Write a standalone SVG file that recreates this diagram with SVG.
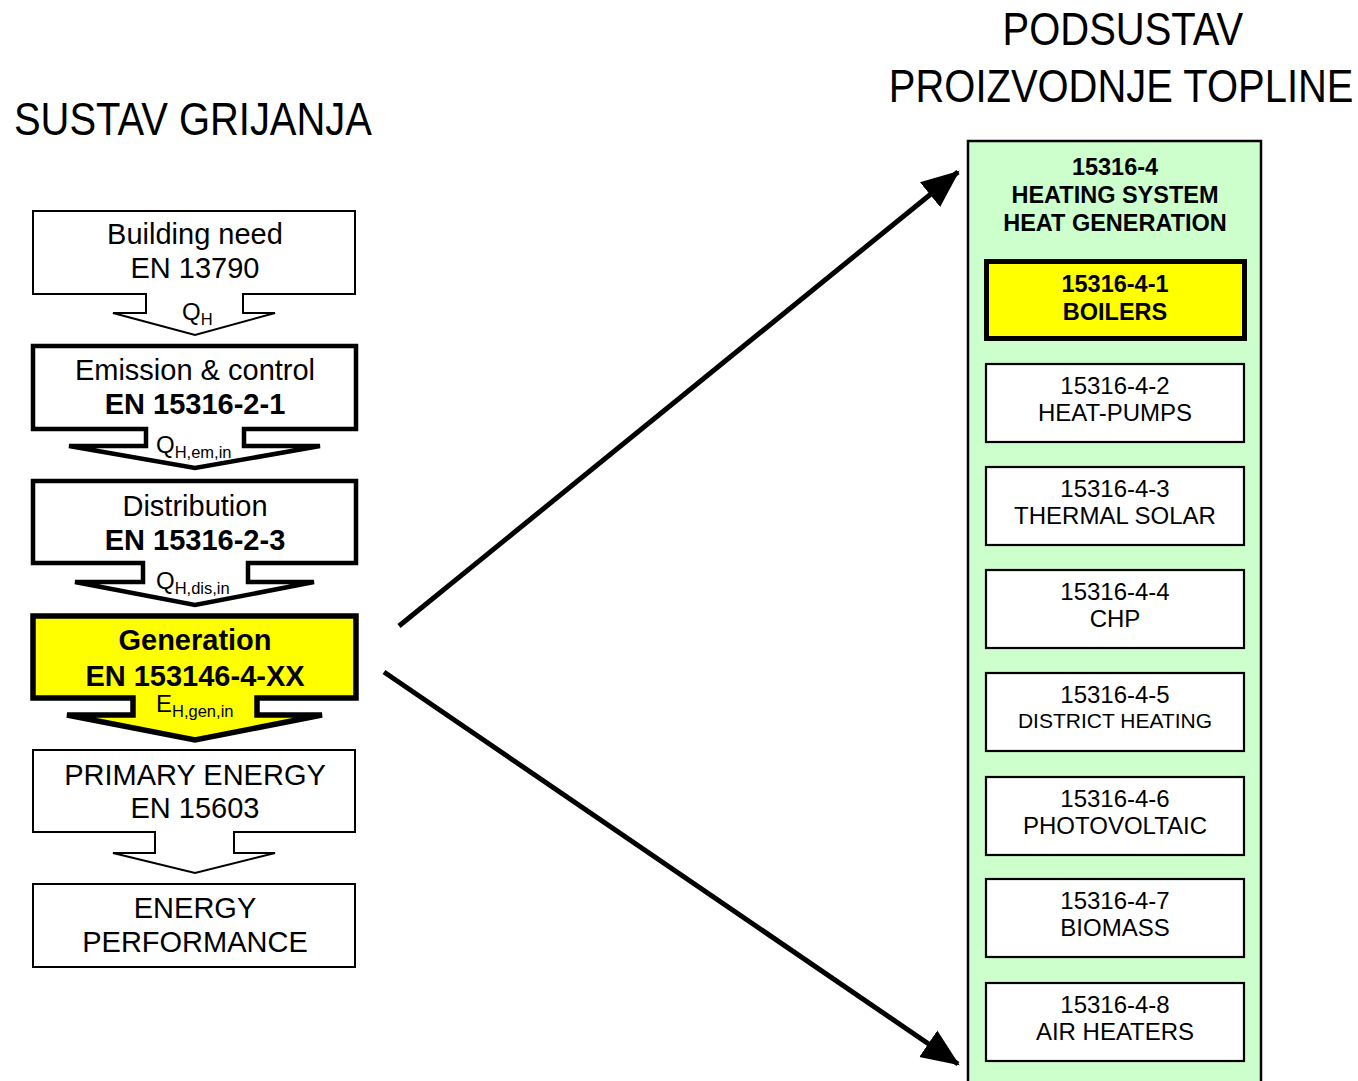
<svg xmlns="http://www.w3.org/2000/svg" width="1358" height="1081" viewBox="0 0 1358 1081">
<style>
text{font-family:"Liberation Sans",Arial,sans-serif;fill:#000;text-anchor:middle}
.title{font-size:47px}
.lt{font-size:29px}
.lb{font-size:29px;font-weight:bold}
.q{font-size:24px;text-anchor:start}
.qs{font-size:16.5px}
.rb{font-size:23.5px;font-weight:bold}
.rt{font-size:24px}
.thin{fill:#fff;stroke:#000;stroke-width:2}
.thick{fill:#fff;stroke:#000;stroke-width:4.5;stroke-linejoin:miter;stroke-miterlimit:10}
.yel{fill:#ffff00;stroke:#000;stroke-width:5.5;stroke-linejoin:miter;stroke-miterlimit:10}
.sub{fill:#fff;stroke:#000;stroke-width:2.2}
.conn{stroke:#000;stroke-width:5;fill:none}
</style>
<defs>
<marker id="ah" markerUnits="userSpaceOnUse" markerWidth="40" markerHeight="40" viewBox="0 0 40 40" refX="36" refY="20" orient="auto">
<path d="M0,4 L38,20 L0,36 Z" fill="#000"/>
</marker>
</defs>

<g id="titles" transform="scale(0.85,1)">
<text class="title" x="227" y="135">SUSTAV GRIJANJA</text>
<text class="title" x="1321" y="45">PODSUSTAV</text>
<text class="title" x="1319" y="102">PROIZVODNJE TOPLINE</text>
</g>

<g id="connectors">
<line class="conn" x1="399" y1="626" x2="958" y2="172" marker-end="url(#ah)"/>
<line class="conn" x1="384" y1="672" x2="958" y2="1064" marker-end="url(#ah)"/>
</g>

<g id="node-building-need">
<path class="thin" d="M33,211 H355 V294 H243 V313 H275 L195,335 L113,313 H146 V294 H33 Z"/>
<text class="lt" x="195" y="244">Building need</text>
<text class="lt" x="195" y="278">EN 13790</text>
<text class="q" x="182" y="320">Q<tspan class="qs" dy="5">H</tspan></text>
</g>

<g id="node-emission">
<path class="thick" d="M33,346 H356 V429 H244 V446 H320 L195,468 L69,446 H146 V429 H33 Z"/>
<text class="lt" x="195" y="380">Emission &amp; control</text>
<text class="lb" x="195" y="414">EN 15316-2-1</text>
<text class="q" x="156" y="453">Q<tspan class="qs" dy="5">H,em,in</tspan></text>
</g>

<g id="node-distribution">
<path class="thick" d="M33,481 H356 V563 H248 V582 H314 L195,605 L75,582 H143 V563 H33 Z"/>
<text class="lt" x="195" y="516">Distribution</text>
<text class="lb" x="195" y="550">EN 15316-2-3</text>
<text class="q" x="156" y="589">Q<tspan class="qs" dy="5">H,dis,in</tspan></text>
</g>

<g id="node-generation">
<path class="yel" d="M33,616 H356 V698 H257 V715 H322 L195,740 L67,715 H133 V698 H33 Z"/>
<text class="lb" x="195" y="650">Generation</text>
<text class="lb" x="195" y="686">EN 153146-4-XX</text>
<text class="q" x="156" y="712">E<tspan class="qs" dy="5">H,gen,in</tspan></text>
</g>

<g id="node-primary-energy">
<path class="thin" d="M33,750 H355 V832 H234 V853 H275 L195,873 L113,853 H155 V832 H33 Z"/>
<text class="lt" x="195" y="785">PRIMARY ENERGY</text>
<text class="lt" x="195" y="818">EN 15603</text>
</g>

<g id="node-energy-performance">
<rect class="thin" x="33" y="884" width="322" height="83"/>
<text class="lt" x="195" y="918">ENERGY</text>
<text class="lt" x="195" y="952">PERFORMANCE</text>
</g>

<g id="node-15316-4">
<rect x="968" y="141" width="293" height="950" fill="#ccffcc" stroke="#000" stroke-width="2.5"/>
<text class="rb" x="1115" y="175">15316-4</text>
<text class="rb" x="1115" y="203">HEATING SYSTEM</text>
<text class="rb" x="1115" y="231">HEAT GENERATION</text>
</g>

<g id="node-boilers">
<rect x="986.5" y="261.5" width="258" height="77" fill="#ffff00" stroke="#000" stroke-width="5"/>
<text class="rb" x="1115" y="292">15316-4-1</text>
<text class="rb" x="1115" y="320">BOILERS</text>
</g>

<g id="node-heat-pumps">
<rect class="sub" x="986" y="364" width="258" height="78"/>
<text class="rt" x="1115" y="394">15316-4-2</text>
<text class="rt" x="1115" y="421">HEAT-PUMPS</text>
</g>

<g id="node-thermal-solar">
<rect class="sub" x="986" y="467" width="258" height="78"/>
<text class="rt" x="1115" y="497">15316-4-3</text>
<text class="rt" x="1115" y="524">THERMAL SOLAR</text>
</g>

<g id="node-chp">
<rect class="sub" x="986" y="570" width="258" height="78"/>
<text class="rt" x="1115" y="600">15316-4-4</text>
<text class="rt" x="1115" y="627">CHP</text>
</g>

<g id="node-district-heating">
<rect class="sub" x="986" y="673" width="258" height="78"/>
<text class="rt" x="1115" y="703">15316-4-5</text>
<text class="rt" x="1115" y="728" style="font-size:21px">DISTRICT HEATING</text>
</g>

<g id="node-photovoltaic">
<rect class="sub" x="986" y="777" width="258" height="78"/>
<text class="rt" x="1115" y="807">15316-4-6</text>
<text class="rt" x="1115" y="834">PHOTOVOLTAIC</text>
</g>

<g id="node-biomass">
<rect class="sub" x="986" y="879" width="258" height="78"/>
<text class="rt" x="1115" y="909">15316-4-7</text>
<text class="rt" x="1115" y="936">BIOMASS</text>
</g>

<g id="node-air-heaters">
<rect class="sub" x="986" y="983" width="258" height="78"/>
<text class="rt" x="1115" y="1013">15316-4-8</text>
<text class="rt" x="1115" y="1040">AIR HEATERS</text>
</g>
</svg>
